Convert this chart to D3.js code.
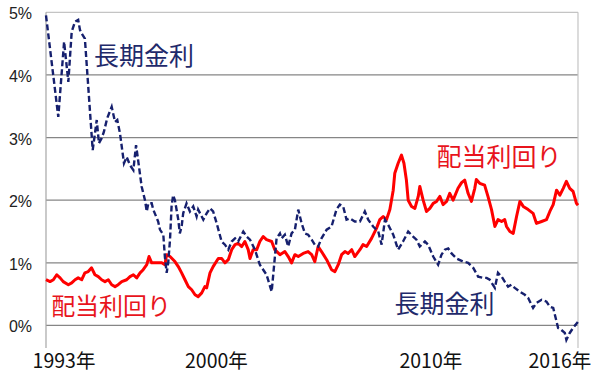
<!DOCTYPE html>
<html lang="ja">
<head>
<meta charset="UTF-8">
<title>長期金利と配当利回り</title>
<script src="https://d3js.org/d3.v7.min.js"></script>
<style>
  body { margin: 0; background: #fff; }
  .ytick { font: 16px "Liberation Sans Narrow", "Liberation Sans", Arial, sans-serif; fill: #222; }
  .xtick { font: 19.5px "Noto Sans CJK JP", "Noto Sans", sans-serif; fill: #111; }
  .note { font-family: "Noto Sans CJK JP", sans-serif; }
</style>
</head>
<body>
<script>
// 長期金利 (10年国債利回り, %)
var bondYears = [1993.00, 1993.55, 1993.81, 1994.00, 1994.15, 1994.30, 1994.44, 1994.52, 1994.60, 1994.74,
  1995.09, 1995.27, 1995.37, 1995.49, 1995.59, 1995.74, 1995.94, 1996.09, 1996.19, 1996.31,
  1996.49, 1996.61, 1996.76, 1996.91, 1997.03, 1997.13, 1997.28, 1997.43, 1997.51, 1997.58,
  1997.73, 1997.80, 1998.02, 1998.10, 1998.25, 1998.32, 1998.40, 1998.47, 1998.55, 1998.62,
  1998.69, 1998.77, 1998.92, 1998.99, 1999.07, 1999.14, 1999.29, 1999.44, 1999.59, 1999.74,
  1999.81, 2000.04, 2000.19, 2000.34, 2000.48, 2000.64, 2000.86, 2001.01, 2001.16, 2001.31,
  2001.46, 2001.60, 2001.83, 2001.98, 2002.13, 2002.35, 2002.57, 2002.87, 2003.10, 2003.32,
  2003.47, 2003.54, 2003.69, 2003.84, 2003.99, 2004.14, 2004.29, 2004.44, 2004.59, 2004.73,
  2004.89, 2005.03, 2005.18, 2005.33, 2005.56, 2005.78, 2006.00, 2006.15, 2006.30, 2006.45,
  2006.60, 2006.82, 2007.05, 2007.27, 2007.42, 2007.64, 2007.87, 2008.02, 2008.17, 2008.31,
  2008.54, 2008.76, 2008.98, 2009.21, 2009.43, 2009.58, 2009.73, 2009.96, 2010.10, 2010.33,
  2010.55, 2010.70, 2010.85, 2011.00, 2011.15, 2011.37, 2011.67, 2011.89, 2012.12, 2012.34,
  2012.56, 2012.72, 2012.86, 2013.09, 2013.23, 2013.39, 2013.53, 2013.68, 2013.83, 2013.98,
  2014.21, 2014.43, 2014.58, 2014.80, 2014.95, 2015.18, 2015.40, 2015.55, 2015.70, 2015.92,
  2016.06, 2016.22, 2016.29, 2016.44, 2016.59, 2016.81];
var bondRates = [4.95, 3.33, 4.53, 3.89, 4.69, 4.85, 4.88, 4.72, 4.66, 4.58,
  2.80, 3.28, 2.91, 2.99, 3.09, 3.31, 3.49, 3.25, 3.28, 3.07,
  2.59, 2.69, 2.56, 2.48, 2.88, 2.62, 2.22, 2.00, 1.82, 1.95,
  1.95, 1.85, 1.66, 1.53, 1.45, 1.10, 0.84, 1.00, 1.37, 1.90,
  2.08, 2.00, 1.69, 1.47, 1.58, 1.79, 1.95, 1.82, 1.90, 1.74,
  1.85, 1.69, 1.79, 1.87, 1.82, 1.63, 1.34, 1.29, 1.21, 1.34,
  1.39, 1.34, 1.50, 1.42, 1.37, 1.21, 0.97, 0.81, 0.54, 1.39,
  1.47, 1.39, 1.45, 1.26, 1.47, 1.53, 1.85, 1.63, 1.47, 1.45,
  1.37, 1.29, 1.26, 1.39, 1.53, 1.58, 1.85, 1.93, 1.90, 1.69,
  1.71, 1.66, 1.66, 1.82, 1.69, 1.58, 1.50, 1.29, 1.69, 1.61,
  1.45, 1.21, 1.34, 1.50, 1.42, 1.37, 1.26, 1.34, 1.29, 1.10,
  0.97, 1.13, 1.21, 1.23, 1.15, 1.07, 1.02, 1.00, 0.92, 0.78,
  0.76, 0.76, 0.73, 0.60, 0.84, 0.78, 0.70, 0.62, 0.65, 0.60,
  0.54, 0.49, 0.44, 0.28, 0.36, 0.41, 0.38, 0.30, 0.28, -0.04,
  -0.07, -0.12, -0.23, -0.12, -0.04, 0.06];

// 配当利回り (%)
var divYears = [1993.00, 1993.18, 1993.33, 1993.48, 1993.63, 1993.77, 1994.00, 1994.15, 1994.30, 1994.44,
  1994.60, 1994.74, 1994.89, 1995.04, 1995.19, 1995.34, 1995.49, 1995.64, 1995.79, 1995.94,
  1996.09, 1996.23, 1996.39, 1996.61, 1996.76, 1996.91, 1997.06, 1997.21, 1997.35, 1997.51,
  1997.61, 1997.73, 1997.95, 1998.18, 1998.32, 1998.40, 1998.55, 1998.77, 1998.92, 1999.07,
  1999.22, 1999.37, 1999.52, 1999.67, 1999.81, 1999.97, 2000.11, 2000.19, 2000.34, 2000.48,
  2000.71, 2000.86, 2001.01, 2001.16, 2001.31, 2001.46, 2001.60, 2001.76, 2001.90, 2002.05,
  2002.13, 2002.27, 2002.43, 2002.57, 2002.72, 2002.87, 2003.10, 2003.24, 2003.47, 2003.69,
  2003.84, 2003.99, 2004.14, 2004.29, 2004.51, 2004.73, 2004.89, 2005.03, 2005.18, 2005.33,
  2005.56, 2005.78, 2005.93, 2006.08, 2006.23, 2006.38, 2006.52, 2006.68, 2006.82, 2007.05,
  2007.19, 2007.35, 2007.57, 2007.79, 2007.94, 2008.09, 2008.24, 2008.39, 2008.54, 2008.61,
  2008.76, 2008.91, 2009.02, 2009.13, 2009.21, 2009.36, 2009.51, 2009.66, 2009.73, 2009.88,
  2010.03, 2010.18, 2010.33, 2010.48, 2010.63, 2010.77, 2010.93, 2011.07, 2011.22, 2011.44,
  2011.60, 2011.74, 2011.89, 2012.04, 2012.19, 2012.26, 2012.41, 2012.63, 2012.78, 2012.94,
  2013.09, 2013.23, 2013.39, 2013.53, 2013.61, 2013.76, 2013.91, 2014.06, 2014.21, 2014.36,
  2014.58, 2014.80, 2014.95, 2015.18, 2015.40, 2015.55, 2015.70, 2015.85, 2016.00, 2016.15,
  2016.29, 2016.44, 2016.59, 2016.74, 2016.81];
var divYields = [0.73, 0.70, 0.73, 0.81, 0.76, 0.70, 0.65, 0.68, 0.73, 0.76,
  0.73, 0.84, 0.86, 0.92, 0.81, 0.78, 0.73, 0.70, 0.73, 0.65,
  0.62, 0.65, 0.70, 0.73, 0.78, 0.81, 0.76, 0.84, 0.89, 0.97,
  1.10, 1.00, 1.00, 1.00, 0.97, 1.13, 1.10, 1.02, 0.94, 0.84,
  0.73, 0.62, 0.57, 0.49, 0.46, 0.52, 0.62, 0.60, 0.84, 0.94,
  1.07, 1.07, 1.00, 1.05, 1.21, 1.29, 1.31, 1.26, 1.34, 1.21,
  1.07, 1.21, 1.21, 1.34, 1.42, 1.37, 1.34, 1.21, 1.13, 1.18,
  1.10, 1.00, 1.13, 1.10, 1.15, 1.18, 1.13, 1.02, 1.26, 1.18,
  1.05, 0.89, 0.86, 0.97, 1.13, 1.18, 1.15, 1.21, 1.10, 1.21,
  1.29, 1.26, 1.39, 1.55, 1.69, 1.74, 1.69, 1.85, 2.16, 2.43,
  2.59, 2.72, 2.59, 2.32, 2.00, 1.90, 1.87, 2.06, 2.22, 2.00,
  1.82, 1.87, 1.95, 1.98, 2.06, 1.93, 1.98, 2.11, 2.00, 2.19,
  2.28, 2.32, 2.11, 1.98, 2.19, 2.33, 2.27, 2.24, 2.06, 1.85,
  1.58, 1.69, 1.66, 1.69, 1.58, 1.50, 1.47, 1.74, 1.98, 1.90,
  1.85, 1.79, 1.63, 1.66, 1.69, 1.82, 1.93, 2.16, 2.08, 2.19,
  2.30, 2.19, 2.14, 1.95, 1.92];

var yTicks = [0, 1, 2, 3, 4, 5];
var xTickYears = [1993, 2000, 2010, 2016];
var xTickLabels = ["1993年", "2000年", "2010年", "2016年"];
// label offsets from the tick year (px), as placed in the original
var xTickShift = [18, 14, 5, 0];

var notes = [
  {text: "長期金利", year: 1995.15, value: 4.16, color: "#1f2a6b", size: 25},
  {text: "配当利回り", year: 1993.23, value: 0.16, color: "#e8141c", size: 24},
  {text: "長期金利", year: 2008.60, value: 0.20, color: "#1f2a6b", size: 25},
  {text: "配当利回り", year: 2010.48, value: 2.55, color: "#e8141c", size: 25}
];

var width = 600, height = 374;
var plotLeft = 46, plotRight = 578, plotTop = 12.3, plotBottom = 348;

var svg = d3.select("body").append("svg")
  .attr("width", width)
  .attr("height", height);

var x = d3.scaleLinear().domain([1993, 2016.81]).range([plotLeft, plotRight]);
var y = d3.scaleLinear().domain([-0.36, 5]).range([plotBottom, plotTop]);

// gridlines
svg.append("g").selectAll("line")
  .data(yTicks)
  .enter().append("line")
  .attr("x1", plotLeft).attr("x2", plotRight)
  .attr("y1", d => y(d)).attr("y2", d => y(d))
  .attr("stroke", d => d === 5 ? "#c4c4c4" : "#868686")
  .attr("stroke-width", 1.3);

// left axis and right border
svg.append("line")
  .attr("x1", plotLeft).attr("x2", plotLeft).attr("y1", plotTop).attr("y2", plotBottom)
  .attr("stroke", "#a6a6a6").attr("stroke-width", 1.2);
svg.append("line")
  .attr("x1", plotRight).attr("x2", plotRight).attr("y1", plotTop).attr("y2", plotBottom)
  .attr("stroke", "#c4c4c4").attr("stroke-width", 1.2);

// y tick labels
svg.append("g").selectAll("text")
  .data(yTicks)
  .enter().append("text")
  .attr("class", "ytick")
  .attr("x", 32)
  .attr("y", d => y(d) + 7)
  .attr("text-anchor", "end")
  .text(d => d + "%");

// x tick labels
svg.append("g").selectAll("text")
  .data(xTickYears)
  .enter().append("text")
  .attr("class", "xtick")
  .attr("x", (d, i) => x(d) + xTickShift[i])
  .attr("y", 368)
  .attr("text-anchor", "middle")
  .text((d, i) => xTickLabels[i]);

var line = d3.line()
  .x(d => x(d[0]))
  .y(d => y(d[1]));

svg.append("path")
  .datum(d3.zip(divYears, divYields))
  .attr("fill", "none")
  .attr("stroke", "#ff0000")
  .attr("stroke-width", 3)
  .attr("stroke-linejoin", "round")
  .attr("d", line);

svg.append("path")
  .datum(d3.zip(bondYears, bondRates))
  .attr("fill", "none")
  .attr("stroke", "#16206e")
  .attr("stroke-width", 2.4)
  .attr("stroke-dasharray", "6,3")
  .attr("d", line);

// annotations
svg.append("g").selectAll("text")
  .data(notes)
  .enter().append("text")
  .attr("class", "note")
  .attr("x", d => x(d.year))
  .attr("y", d => y(d.value))
  .attr("fill", d => d.color)
  .style("font-size", d => d.size + "px")
  .text(d => d.text);
</script>
</body>
</html>
